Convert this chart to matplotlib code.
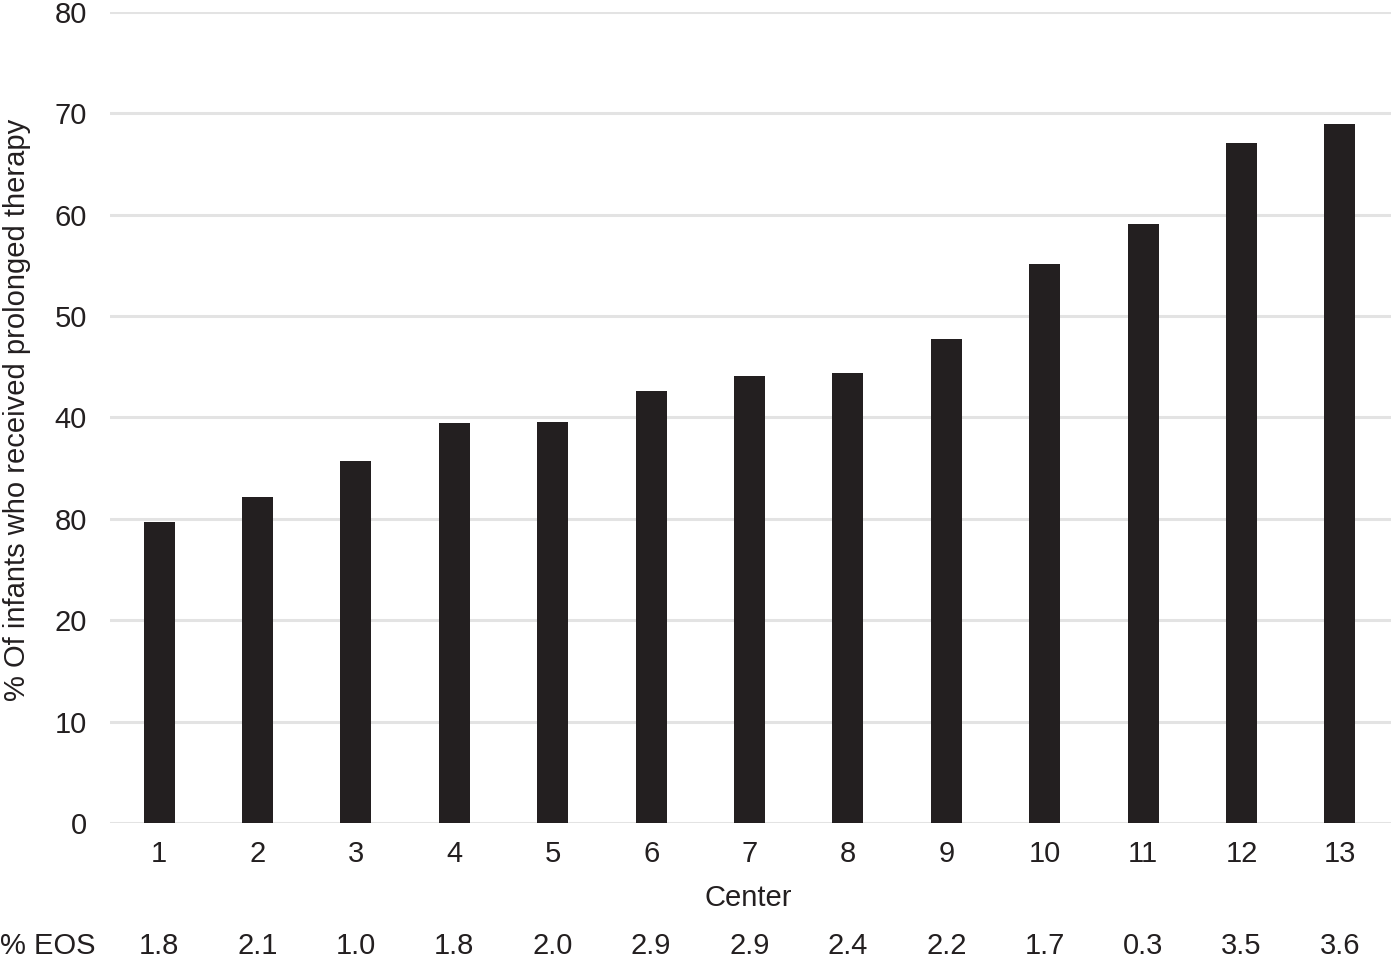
import matplotlib
matplotlib.use("Agg")
import matplotlib.pyplot as plt
import matplotlib.transforms as mtransforms

plt.rcParams['font.family'] = ['Liberation Sans', 'DejaVu Sans']

centers = ["1", "2", "3", "4", "5", "6", "7", "8", "9", "10", "11", "12", "13"]
prolonged_pct = [29.7, 32.2, 35.7, 39.5, 39.6, 42.6, 44.1, 44.4, 47.7, 55.1, 59.1, 67.1, 69.0]
eos_pct = ["1.8", "2.1", "1.0", "1.8", "2.0", "2.9", "2.9", "2.4", "2.2", "1.7", "0.3", "3.5", "3.6"]
ytick_values = [0, 10, 20, 30, 40, 50, 60, 70, 80]
ytick_labels = ["0", "10", "20", "80", "40", "50", "60", "70", "80"]

FS = 21
TXT = "#231f20"
W, H = 1391, 960
fig = plt.figure(figsize=(W / 100, H / 100), dpi=100)
ax = fig.add_axes([110 / W, 1 - 823 / H, (W - 110) / W, (823 - 12) / H])

x = list(range(len(centers)))
ax.bar(x, prolonged_pct, width=0.315, color="#231f20", zorder=3)

ax.set_xlim(-0.5, len(centers) - 0.48)
ax.set_ylim(0, 80)
ax.set_yticks(ytick_values)
ax.set_yticklabels(ytick_labels)
ax.set_xticks(x)
ax.set_xticklabels(centers)
ax.tick_params(axis='both', length=0, labelsize=FS, colors=TXT)
ax.tick_params(axis='y', pad=16.5)
ax.tick_params(axis='x', pad=12)
for s in ax.spines.values():
    s.set_visible(False)
ax.yaxis.grid(True, color="#e3e3e3", linewidth=2.2, zorder=0)
ax.set_axisbelow(True)

fig.text(748 / W, 1 - 898 / H, "Center", ha="center", va="center", fontsize=FS, color=TXT)
fig.text(17 / W, 1 - 410 / H, "% Of infants who received prolonged therapy", rotation=90,
         ha="center", va="center", fontsize=FS, color=TXT)

trans = mtransforms.blended_transform_factory(ax.transData, fig.transFigure)
fig.text(0 / W, 1 - 946 / H, "% EOS", ha="left", va="center", fontsize=FS, color=TXT)
for xi, e in zip(x, eos_pct):
    ax.text(xi, 1 - 946 / H, e, transform=trans, ha="center", va="center", fontsize=FS, color=TXT)

fig.savefig("out.png", dpi=100)
